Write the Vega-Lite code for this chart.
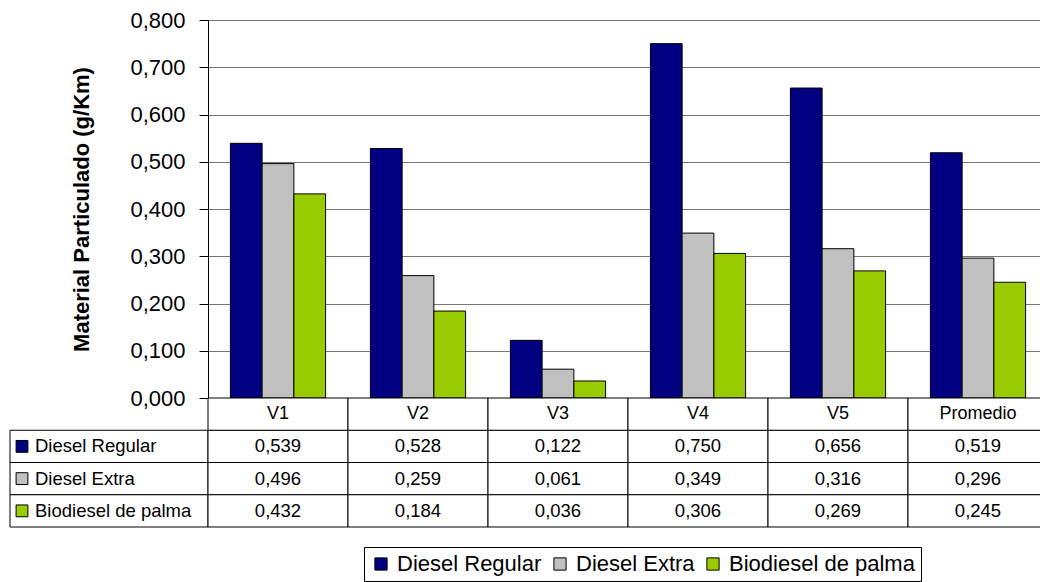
{
  "$schema": "https://vega.github.io/schema/vega-lite/v6.json",
  "padding": {"left": 9, "top": 9, "right": 0, "bottom": 0},
  "background": "#ffffff",
  "config": {
    "locale": {"number": {"decimal": ",", "thousands": ".", "grouping": [3], "currency": ["", " €"]}},
    "view": {"stroke": null},
    "font": "Liberation Sans",
    "text": {"font": "Liberation Sans", "color": "#000000"}
  },
  "datasets": {
    "pm": [
      {"categoria": "V1", "serie": "Diesel Regular", "valor": 0.539},
      {"categoria": "V1", "serie": "Diesel Extra", "valor": 0.496},
      {"categoria": "V1", "serie": "Biodiesel de palma", "valor": 0.432},
      {"categoria": "V2", "serie": "Diesel Regular", "valor": 0.528},
      {"categoria": "V2", "serie": "Diesel Extra", "valor": 0.259},
      {"categoria": "V2", "serie": "Biodiesel de palma", "valor": 0.184},
      {"categoria": "V3", "serie": "Diesel Regular", "valor": 0.122},
      {"categoria": "V3", "serie": "Diesel Extra", "valor": 0.061},
      {"categoria": "V3", "serie": "Biodiesel de palma", "valor": 0.036},
      {"categoria": "V4", "serie": "Diesel Regular", "valor": 0.750},
      {"categoria": "V4", "serie": "Diesel Extra", "valor": 0.349},
      {"categoria": "V4", "serie": "Biodiesel de palma", "valor": 0.306},
      {"categoria": "V5", "serie": "Diesel Regular", "valor": 0.656},
      {"categoria": "V5", "serie": "Diesel Extra", "valor": 0.316},
      {"categoria": "V5", "serie": "Biodiesel de palma", "valor": 0.269},
      {"categoria": "Promedio", "serie": "Diesel Regular", "valor": 0.519},
      {"categoria": "Promedio", "serie": "Diesel Extra", "valor": 0.296},
      {"categoria": "Promedio", "serie": "Biodiesel de palma", "valor": 0.245}
    ]
  },
  "columns": 2,
  "spacing": 0,
  "bounds": "flush",
  "resolve": {"scale": {"color": "shared"}, "legend": {"color": "shared"}},
  "concat": [
    {
      "width": 198,
      "height": 378,
      "data": {"values": []},
      "mark": "point"
    },
    {
      "width": 840,
      "height": 378,
      "data": {"name": "pm"},
      "mark": {"type": "bar", "stroke": "#000000", "strokeWidth": 1},
      "encoding": {
        "x": {
          "field": "categoria",
          "type": "nominal",
          "scale": {"domain": ["V1", "V2", "V3", "V4", "V5", "Promedio"], "paddingInner": 0.32, "paddingOuter": 0.16},
          "axis": {"labels": false, "ticks": false, "title": null, "domainColor": "#000000", "domainWidth": 1}
        },
        "xOffset": {
          "field": "serie",
          "type": "nominal",
          "scale": {"domain": ["Diesel Regular", "Diesel Extra", "Biodiesel de palma"], "paddingInner": 0, "paddingOuter": 0}
        },
        "y": {
          "field": "valor",
          "type": "quantitative",
          "scale": {"domain": [0, 0.8], "nice": false},
          "axis": {
            "values": [0, 0.1, 0.2, 0.3, 0.4, 0.5, 0.6, 0.7, 0.8],
            "format": ".3f",
            "title": "Material Particulado (g/Km)",
            "titleFont": "Liberation Sans",
            "titleFontSize": 22,
            "titleFontWeight": "bold",
            "titleColor": "#000000",
            "titlePadding": 36,
            "labelFont": "Liberation Sans",
            "labelFontSize": 22,
            "labelColor": "#000000",
            "labelPadding": 14,
            "tickSize": 9,
            "tickColor": "#000000",
            "domainColor": "#000000",
            "grid": true,
            "gridColor": "#777777",
            "gridWidth": 1
          }
        },
        "color": {
          "field": "serie",
          "type": "nominal",
          "scale": {"domain": ["Diesel Regular", "Diesel Extra", "Biodiesel de palma"], "range": ["#000080", "#c0c0c0", "#99cc00"]},
          "legend": {
            "title": null,
            "orient": "none",
            "legendX": 354,
            "legendY": 527,
            "direction": "horizontal",
            "columns": 3,
            "symbolType": "square",
            "symbolSize": 150,
            "symbolStrokeColor": "#000000",
            "symbolStrokeWidth": 1,
            "symbolOpacity": 1,
            "labelFont": "Liberation Sans",
            "labelFontSize": 22,
            "labelColor": "#000000",
            "labelOffset": 5,
            "labelLimit": 300,
            "columnPadding": 7,
            "padding": 6,
            "strokeColor": "#000000",
            "fillColor": "#ffffff"
          }
        }
      }
    },
    {
      "width": 198,
      "height": 129,
      "data": {"name": "pm"},
      "transform": [{"aggregate": [{"op": "count", "as": "n"}], "groupby": ["serie"]}],
      "layer": [
        {
          "mark": {"type": "rect", "fill": "#ffffff", "stroke": "#000000", "strokeWidth": 1},
          "encoding": {
            "x": {"value": 0},
            "x2": {"value": "width"},
            "y": {
              "field": "serie",
              "type": "nominal",
              "scale": {"domain": ["encabezado", "Diesel Regular", "Diesel Extra", "Biodiesel de palma"], "paddingInner": 0, "paddingOuter": 0},
              "axis": null
            }
          }
        },
        {
          "mark": {"type": "point", "shape": "square", "filled": true, "size": 140, "stroke": "#000000", "strokeWidth": 1, "opacity": 1},
          "encoding": {
            "x": {"value": 12},
            "y": {"field": "serie", "type": "nominal", "scale": {"domain": ["encabezado", "Diesel Regular", "Diesel Extra", "Biodiesel de palma"]}, "axis": null},
            "color": {"field": "serie", "type": "nominal", "legend": null}
          }
        },
        {
          "mark": {"type": "text", "align": "left", "baseline": "middle", "fontSize": 18.5},
          "encoding": {
            "x": {"value": 25},
            "y": {"field": "serie", "type": "nominal", "scale": {"domain": ["encabezado", "Diesel Regular", "Diesel Extra", "Biodiesel de palma"]}, "axis": null},
            "text": {"field": "serie"}
          }
        }
      ]
    },
    {
      "width": 840,
      "height": 129,
      "data": {"name": "pm"},
      "layer": [
        {
          "mark": {"type": "rect", "fill": "#ffffff", "stroke": "#000000", "strokeWidth": 1},
          "encoding": {
            "x": {"field": "categoria", "type": "nominal", "scale": {"domain": ["V1", "V2", "V3", "V4", "V5", "Promedio"], "paddingInner": 0, "paddingOuter": 0}, "axis": null},
            "y": {"field": "serie", "type": "nominal", "scale": {"domain": ["encabezado", "Diesel Regular", "Diesel Extra", "Biodiesel de palma"], "paddingInner": 0, "paddingOuter": 0}, "axis": null}
          }
        },
        {
          "mark": {"type": "text", "baseline": "middle", "fontSize": 18.5},
          "encoding": {
            "x": {"field": "categoria", "type": "nominal", "scale": {"domain": ["V1", "V2", "V3", "V4", "V5", "Promedio"]}, "axis": null},
            "y": {"field": "serie", "type": "nominal", "scale": {"domain": ["encabezado", "Diesel Regular", "Diesel Extra", "Biodiesel de palma"]}, "axis": null},
            "text": {"field": "valor", "type": "quantitative", "format": ".3f"}
          }
        },
        {
          "transform": [{"aggregate": [{"op": "count", "as": "n"}], "groupby": ["categoria"]}],
          "mark": {"type": "rect", "fill": "#ffffff", "stroke": "#000000", "strokeWidth": 1},
          "encoding": {
            "x": {"field": "categoria", "type": "nominal", "scale": {"domain": ["V1", "V2", "V3", "V4", "V5", "Promedio"]}, "axis": null},
            "y": {"datum": "encabezado", "type": "nominal", "scale": {"domain": ["encabezado", "Diesel Regular", "Diesel Extra", "Biodiesel de palma"]}, "axis": null}
          }
        },
        {
          "transform": [{"aggregate": [{"op": "count", "as": "n"}], "groupby": ["categoria"]}],
          "mark": {"type": "text", "baseline": "middle", "fontSize": 18},
          "encoding": {
            "x": {"field": "categoria", "type": "nominal", "scale": {"domain": ["V1", "V2", "V3", "V4", "V5", "Promedio"]}, "axis": null},
            "y": {"datum": "encabezado", "type": "nominal", "scale": {"domain": ["encabezado", "Diesel Regular", "Diesel Extra", "Biodiesel de palma"]}, "axis": null},
            "text": {"field": "categoria"}
          }
        }
      ]
    }
  ]
}
